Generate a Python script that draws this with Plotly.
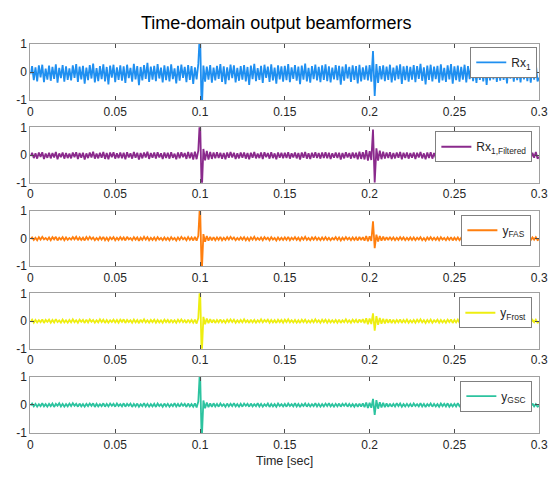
import numpy as np
import plotly.graph_objects as go

# sampling of the time axis (1 kHz over 0..0.3 s)
fs = 1000.0

title_text = "Time-domain output beamformers"
xlabel_text = "Time [sec]"
x_ticks = [0, 0.05, 0.1, 0.15, 0.2, 0.25, 0.3]
x_ticklabels = ["0", "0.05", "0.1", "0.15", "0.2", "0.25", "0.3"]
y_ticks = [-1, 0, 1]
y_ticklabels = ["-1", "0", "1"]

series_names = ["Rx<sub>1</sub>", "Rx<sub>1,Filtered</sub>", "y<sub>FAS</sub>",
                "y<sub>Frost</sub>", "y<sub>GSC</sub>"]

# sample values in hundredths
rx1 = [-8, 21, -29, 17, -33, 24, -19, 26, -36, 12, -27, 23, -31, 18, -24, 27, -38, 15, -22, 25, -34, 20, -28, 13, -30,
       24, -21, 28, -35, 19, -26, 22, -41, 16, -29, 25, -23, 30, -37, 14, -32, 21, -25, 27, -33, 18, -44, 23, -20, 26,
       -36, 17, -28, 24, -31, 20, -39, 26, -22, 15, -34, 29, -26, 21, -47, 18, -30, 25, -24, 33, -35, 19, -27, 22, -32,
       28, -23, 16, -37, 24, -29, 20, -33, 27, -25, 13, -40, 22, -31, 26, -21, 18, -36, 25, -28, 21, -42, 17, -26, 29,
       150, -150, 23, -34, 19, -27, 25, -38, 16, -30, 22, -24, 28, -35, 20, -43, 17, -29, 26, -22, 24, -37, 15, -31, 21,
       -27, 25, -33, 18, -46, 23, -25, 29, -32, 14, -28, 22, -39, 26, -21, 19, -35, 27, -30, 16, -41, 24, -26, 20, -34,
       22, -29, 28, -36, 17, -24, 25, -31, 19, -43, 23, -27, 30, -33, 15, -38, 21, -25, 26, -30, 18, -36, 24, -28, 27,
       -32, 20, -37, 16, -26, 25, -29, 22, -45, 19, -31, 27, -23, 18, -35, 24, -28, 21, -40, 26, -33, 17, -27, 23, -30,
       25, -34, 75, -85, 28, -39, 21, -26, 24, -32, 19, -28, 26, -37, 16, -30, 23, -25, 27, -42, 20, -29, 22, -34, 18,
       -27, 25, -36, 21, -24, 29, -31, 17, -44, 23, -28, 26, -33, 19, -25, 22, -38, 27, -30, 15, -35, 24, -26, 28, -41,
       20, -29, 23, -34, 18, -27, 26, -37, 21, -25, 30, -32, 16, -39, 24, -28, 22, -33, 19, -46, 25, -30, 17, -26, 27,
       -35, 21, -31, 24, -28, 18, -40, 26, -23, 20, -34, 27, -29, 15, -37, 23, -26, 25, -32, 19, -38, 22, -27, 28, -33,
       -20]

rx1_filtered = [-4, 8, -11, 6, -13, 9, -7, 10, -14, 5, -10, 8, -12, 7, -9, 11, -15, 6, -8, 9, -13, 7, -11, 5, -12,
                9, -8, 10, -14, 7, -10, 8, -16, 6, -11, 9, -9, 12, -13, 5, -12, 8, -10, 11, -14, 7, -15, 9, -8, 10,
                -13, 6, -11, 9, -12, 8, -15, 10, -9, 6, -13, 11, -10, 8, -16, 7, -12, 9, -9, 12, -14, 7, -10, 9, -13,
                10, -9, 6, -14, 9, -11, 8, -13, 10, -10, 5, -15, 9, -12, 10, -8, 7, -14, 11, -12, 9, -16, 12, -15, 16,
                140, -140, 22, -19, 15, -16, 11, -14, 9, -12, 10, -11, 8, -13, 7, -15, 9, -10, 11, -9, 8, -14, 6, -12, 9,
                -10, 9, -13, 7, -15, 8, -10, 11, -12, 5, -11, 9, -14, 10, -8, 7, -13, 10, -11, 6, -15, 9, -10, 8, -12,
                8, -11, 10, -13, 6, -9, 9, -12, 7, -16, 9, -10, 11, -13, 6, -14, 8, -10, 10, -11, 7, -13, 9, -11, 10,
                -12, 8, -14, 6, -10, 9, -11, 8, -16, 7, -12, 10, -9, 7, -13, 9, -11, 8, -15, 12, -14, 10, -16, 18, -20,
                14, -18, 92, -100, 24, -20, 16, -15, 12, -13, 9, -11, 10, -14, 7, -12, 9, -10, 11, -15, 8, -11, 9, -13, 7,
                -10, 9, -14, 8, -9, 11, -12, 6, -15, 9, -11, 10, -13, 7, -10, 8, -14, 10, -11, 6, -13, 9, -10, 11, -15,
                8, -11, 9, -13, 7, -10, 10, -14, 8, -9, 11, -12, 6, -14, 9, -11, 8, -13, 7, -16, 10, -12, 6, -10, 10,
                -13, 8, -12, 9, -11, 7, -15, 10, -9, 8, -13, 11, -11, 6, -14, 9, -10, 10, -12, 7, -14, 8, -10, 11, -13,
                -7]

y_fas = [-2, 4, -5, 3, -6, 5, -4, 6, -3, 2, -5, 4, -6, 5, -3, 6, -7, 3, -4, 5, -6, 4, -5, 2, -4,
         5, -3, 6, -6, 4, -5, 3, -7, 5, -4, 6, -3, 4, -6, 2, -5, 5, -4, 6, -6, 3, -7, 4, -3, 5,
         -6, 3, -5, 5, -4, 4, -7, 6, -3, 2, -6, 5, -4, 4, -8, 3, -5, 6, -4, 5, -6, 3, -5, 4, -6,
         5, -4, 2, -6, 4, -5, 3, -6, 5, -4, 2, -7, 4, -5, 6, -3, 3, -6, 5, -5, 4, -7, 6, -8, 10,
         130, -130, 16, -12, 9, -8, 6, -7, 5, -6, 4, -5, 6, -6, 3, -5, 5, -4, 6, -3, 4, -6, 2, -5, 4,
         -4, 5, -6, 3, -7, 4, -4, 6, -5, 2, -5, 4, -6, 5, -3, 3, -6, 5, -4, 2, -7, 4, -5, 3, -5,
         4, -5, 6, -6, 3, -4, 5, -5, 3, -7, 4, -4, 6, -5, 2, -6, 4, -4, 5, -5, 3, -6, 4, -5, 5,
         -5, 3, -6, 2, -4, 5, -5, 4, -7, 3, -5, 5, -4, 3, -6, 4, -5, 4, -7, 6, -6, 5, -8, 9, -10,
         8, -9, 62, -35, 14, -11, 9, -8, 7, -7, 5, -6, 6, -5, 4, -6, 3, -5, 5, -4, 4, -6, 3, -5, 4,
         -5, 4, -6, 3, -4, 5, -6, 2, -7, 4, -4, 5, -5, 3, -5, 4, -6, 5, -4, 2, -6, 4, -5, 5, -7,
         3, -5, 4, -6, 3, -4, 5, -6, 4, -3, 5, -5, 2, -6, 4, -5, 3, -6, 4, -7, 5, -4, 3, -5, 4,
         -6, 3, -5, 4, -4, 2, -7, 5, -4, 3, -6, 5, -5, 2, -6, 4, -4, 5, -5, 3, -6, 4, -4, 5, -6,
         -3]

y_frost = [-3, 5, -6, 4, -5, 3, -4, 6, -7, 4, -3, 5, -6, 4, -5, 7, -4, 2, -6, 5, -5, 3, -6, 4, -5,
           6, -4, 3, -6, 5, -3, 4, -7, 5, -5, 6, -3, 4, -6, 3, -5, 6, -4, 5, -7, 4, -6, 3, -4, 5,
           -5, 4, -6, 5, -3, 6, -7, 4, -4, 3, -6, 5, -5, 4, -8, 5, -4, 6, -5, 3, -6, 4, -4, 5, -6,
           4, -5, 3, -6, 5, -4, 4, -7, 5, -5, 3, -6, 5, -4, 6, -4, 3, -7, 5, -5, 4, -6, 5, -9, 11,
           130, -130, 15, -12, 9, -8, 7, -6, 5, -7, 4, -5, 6, -5, 3, -6, 5, -4, 6, -4, 5, -6, 3, -5, 4,
           -5, 6, -4, 3, -7, 5, -5, 4, -6, 3, -4, 6, -5, 4, -3, 5, -6, 4, -5, 3, -7, 5, -4, 4, -6,
           5, -4, 6, -5, 3, -5, 4, -6, 3, -7, 5, -4, 5, -6, 2, -5, 4, -5, 6, -4, 3, -6, 5, -4, 5,
           -6, 4, -5, 3, -5, 4, -6, 5, -7, 3, -4, 6, -5, 3, -6, 5, -4, 5, -7, 6, -5, 7, -8, 10, -12,
           9, -11, 28, -35, 18, -14, 11, -10, 8, -9, 7, -7, 6, -8, 5, -6, 4, -5, 6, -7, 4, -5, 5, -6, 3,
           -5, 4, -6, 5, -4, 6, -5, 3, -7, 4, -5, 5, -6, 3, -4, 5, -6, 4, -5, 3, -6, 5, -4, 6, -7,
           4, -5, 5, -6, 3, -5, 4, -6, 5, -3, 6, -5, 3, -7, 4, -4, 5, -6, 3, -6, 5, -4, 4, -5, 6,
           -6, 3, -5, 5, -4, 4, -7, 5, -5, 3, -6, 6, -4, 3, -6, 5, -5, 4, -5, 3, -7, 4, -4, 5, -6,
           -4]

y_gsc = [-2, 5, -5, 4, -6, 3, -4, 6, -5, 3, -6, 4, -4, 5, -7, 4, -3, 6, -5, 4, -6, 3, -5, 5, -4,
         6, -3, 4, -6, 5, -5, 3, -6, 4, -4, 5, -3, 6, -7, 4, -5, 3, -4, 6, -6, 4, -5, 5, -3, 4,
         -6, 5, -4, 3, -5, 6, -6, 4, -3, 5, -7, 4, -5, 5, -6, 3, -4, 6, -5, 4, -6, 3, -5, 4, -7,
         5, -4, 3, -6, 5, -5, 4, -6, 3, -4, 6, -5, 4, -6, 5, -3, 4, -7, 5, -5, 3, -6, 6, -9, 12,
         130, -130, 16, -12, 9, -8, 6, -7, 6, -5, 4, -6, 5, -4, 3, -6, 5, -5, 4, -4, 6, -5, 3, -6, 4,
         -6, 5, -3, 4, -6, 5, -5, 3, -4, 6, -5, 4, -6, 3, -4, 5, -7, 4, -5, 3, -6, 5, -4, 3, -5,
         4, -6, 5, -4, 3, -5, 6, -5, 4, -7, 3, -4, 5, -6, 4, -5, 3, -4, 6, -5, 4, -6, 3, -5, 5,
         -4, 6, -5, 3, -6, 4, -5, 5, -6, 4, -3, 5, -6, 4, -5, 3, -6, 5, -7, 5, -6, 6, -8, 9, -11,
         8, -10, 22, -35, 17, -13, 10, -9, 8, -8, 6, -7, 5, -6, 4, -5, 6, -4, 5, -6, 3, -5, 4, -5, 4,
         -6, 5, -4, 3, -5, 6, -5, 4, -7, 3, -4, 5, -6, 4, -5, 3, -6, 5, -4, 4, -5, 6, -6, 3, -5,
         4, -5, 6, -4, 3, -6, 5, -5, 4, -3, 5, -6, 4, -6, 3, -5, 5, -4, 6, -7, 4, -5, 3, -4, 5,
         -5, 4, -6, 3, -5, 5, -4, 6, -6, 3, -5, 4, -4, 5, -6, 3, -5, 6, -4, 4, -6, 5, -5, 3, -6,
         -3]

series_values = [rx1, rx1_filtered, y_fas, y_frost, y_gsc]
colors = ["#1f8ff0", "#8a2a8c", "#ff7f0f", "#eeee10", "#2cc39f"]

W, H = 558, 478
plot_left, plot_right = 28, 548
panels_px = [(38, 96), (124, 181), (210, 267), (295, 352), (381, 439)]
legend_px = [(546, 41), (541, 128), (540, 214), (541, 299), (541, 385)]

fig = go.Figure()
layout = dict(
    width=W, height=H,
    margin=dict(l=0, r=0, t=0, b=0),
    paper_bgcolor="white", plot_bgcolor="white",
    font=dict(family="Liberation Sans, Arial, Helvetica, sans-serif", size=12, color="#262626"),
    showlegend=True,
)

for i, (name, vals, col) in enumerate(zip(series_names, series_values, colors)):
    k = "" if i == 0 else str(i + 1)
    lg = "legend" if i == 0 else "legend" + str(i + 1)
    t = np.arange(len(vals)) / fs
    fig.add_trace(go.Scatter(
        x=t, y=np.array(vals) / 100.0, mode="lines", name=name,
        line=dict(color=col, width=1.8, simplify=False),
        xaxis="x" + k, yaxis="y" + k, legend=lg,
    ))
    top, bot = panels_px[i]
    axstyle = dict(showline=True, linecolor="#a0a0a0", linewidth=1, mirror="ticks",
                   ticks="inside", ticklen=4, tickcolor="#4d4d4d", showgrid=False,
                   zeroline=False, tickfont=dict(size=12, color="#262626"))
    layout["xaxis" + k] = dict(domain=[plot_left / W, plot_right / W], range=[0, 0.3],
                               tickmode="array", tickvals=x_ticks, ticktext=x_ticklabels,
                               anchor="y" + k, **axstyle)
    layout["yaxis" + k] = dict(domain=[1 - bot / H, 1 - top / H], range=[-1, 1],
                               tickmode="array", tickvals=y_ticks, ticktext=y_ticklabels,
                               anchor="x" + k, **axstyle)
    lx, ly = legend_px[i]
    layout[lg] = dict(x=lx / W, y=1 - ly / H, xanchor="right", yanchor="top",
                      bgcolor="white", bordercolor="#808080", borderwidth=1,
                      font=dict(size=12, color="#262626"), itemwidth=30,
                      tracegroupgap=0)

layout["annotations"] = [
    dict(text=title_text, x=279 / W, y=1 - 16 / H, xref="paper", yref="paper",
         showarrow=False, xanchor="center", yanchor="middle",
         font=dict(size=18, color="#000000")),
    dict(text=xlabel_text, x=288 / W, y=1 - 468 / H, xref="paper", yref="paper",
         showarrow=False, xanchor="center", yanchor="middle",
         font=dict(size=12.5, color="#262626")),
]

fig.update_layout(**layout)
fig.write_html("out.html", config={"displayModeBar": False},
               post_script="document.body.style.margin='0px';document.body.style.overflow='hidden';")
